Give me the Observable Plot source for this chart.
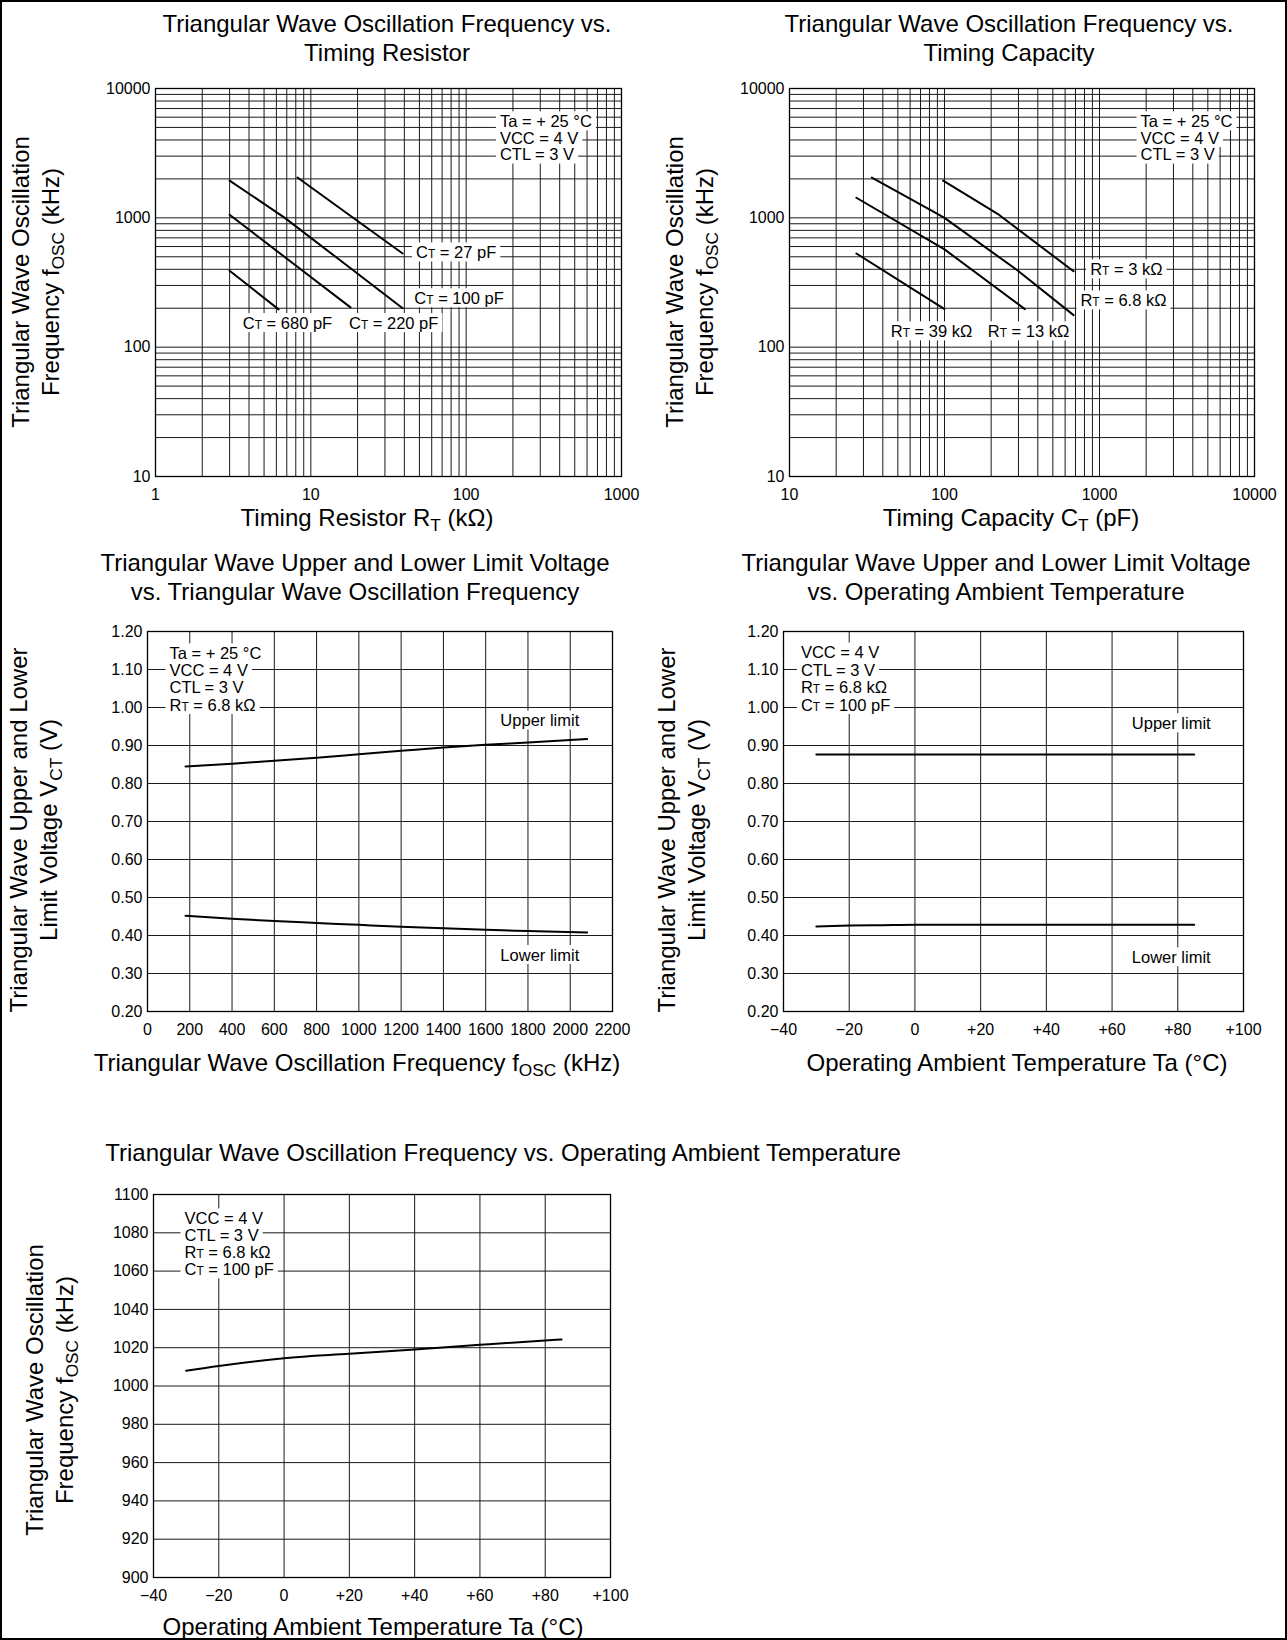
<!DOCTYPE html>
<html><head><meta charset="utf-8">
<script src="https://cdn.jsdelivr.net/npm/d3@7"></script>
<script src="https://cdn.jsdelivr.net/npm/@observablehq/plot@0.6"></script>
<style>
body{margin:0;background:#fff;}
#page{position:relative;width:1287px;height:1640px;font-family:"Liberation Sans",Arial,sans-serif;color:#000;overflow:hidden;background:#fff;}
#frame{position:absolute;left:0;top:0;width:1287px;height:1640px;box-sizing:border-box;border:2px solid #000;pointer-events:none;}
.t{position:absolute;white-space:nowrap;font-size:24px;line-height:29px;text-align:center;transform:translate(-50%,-50%);}
.yl{position:absolute;white-space:nowrap;font-size:24px;line-height:30px;text-align:center;transform:translate(-50%,-50%) rotate(-90deg);}
.panel{position:absolute;}
sub{font-size:72%;vertical-align:-0.3em;line-height:0;}
</style></head>
<body>
<div id="page"><div id="frame"></div></div>
<script>
// ---------------- DATA ----------------
// Chart 1: oscillation frequency (kHz) vs timing resistor RT (kΩ)
const ct27RT = [8.2, 19.4, 39];
const ct27F = [2050, 970, 530];
const ct100RT = [3, 6.8, 15, 39];
const ct100F = [1940, 1000, 482, 200];
const ct220RT = [3, 8, 18];
const ct220F = [1055, 428, 203];
const ct680RT = [3, 6.2];
const ct680F = [390, 196];
const c1LabelText = ["Cᴛ = 27 pF", "Cᴛ = 100 pF", "Cᴛ = 680 pF", "Cᴛ = 220 pF"];
const c1LabelX = [47.6, 46.4, 3.65, 17.6];
const c1LabelY = [538, 238, 153, 153];
const c1Cond = ["Ta = + 25 °C", "VCC = 4 V", "CTL = 3 V"];
const c1CondX = 165;
const c1CondY = [5550, 4124, 3070];
const c1XTicks = [1, 10, 100, 1000];
const c1YTicks = [10, 100, 1000, 10000];

// Chart 2: oscillation frequency (kHz) vs timing capacity CT (pF)
const rt3CT = [98, 220, 680];
const rt3F = [1940, 1075, 386];
const rt68CT = [34, 82, 100, 295, 680];
const rt68F = [2050, 1140, 1000, 393, 177];
const rt13CT = [27, 100, 330];
const rt13F = [1430, 570, 197];
const rt39CT = [27, 100];
const rt39F = [530, 197];
const c2LabelText = ["Rᴛ = 3 kΩ", "Rᴛ = 6.8 kΩ", "Rᴛ = 39 kΩ", "Rᴛ = 13 kΩ"];
const c2LabelX = [871, 753, 45, 190];
const c2LabelY = [398, 229, 132, 132];
const c2Cond = ["Ta = + 25 °C", "VCC = 4 V", "CTL = 3 V"];
const c2CondX = 1840;
const c2CondY = [5550, 4124, 3070];
const c2XTicks = [10, 100, 1000, 10000];
const c2YTicks = [10, 100, 1000, 10000];

// Chart 3: upper / lower limit voltage (V) vs frequency (kHz)
const freq3 = [180, 400, 600, 800, 1000, 1200, 1400, 1600, 1800, 2080];
const upper3 = [0.845, 0.852, 0.860, 0.868, 0.877, 0.886, 0.895, 0.902, 0.908, 0.917];
const lower3 = [0.452, 0.444, 0.438, 0.433, 0.428, 0.423, 0.419, 0.415, 0.412, 0.408];
const c3Cond = ["Ta = + 25 °C", "VCC = 4 V", "CTL = 3 V", "Rᴛ = 6.8 kΩ"];
const c3CondX = 104;
const c3CondY = [1.142, 1.096, 1.051, 1.006];
const c3LimitText = ["Upper limit", "Lower limit"];
const c3LimitX = [1856, 1856];
const c3LimitY = [0.965, 0.348];
const c3XTicks = [0, 200, 400, 600, 800, 1000, 1200, 1400, 1600, 1800, 2000, 2200];
const voltTicks = [0.2, 0.3, 0.4, 0.5, 0.6, 0.7, 0.8, 0.9, 1.0, 1.1, 1.2];

// Chart 4: upper / lower limit voltage (V) vs ambient temperature (°C)
const temp4 = [-30, -20, -10, 0, 20, 40, 60, 80, 85];
const upper4 = [0.876, 0.876, 0.876, 0.876, 0.876, 0.876, 0.876, 0.876, 0.876];
const lower4 = [0.424, 0.426, 0.427, 0.428, 0.428, 0.428, 0.428, 0.428, 0.428];
const c4Cond = ["VCC = 4 V", "CTL = 3 V", "Rᴛ = 6.8 kΩ", "Cᴛ = 100 pF"];
const c4CondX = -34.7;
const c4CondY = [1.144, 1.097, 1.051, 1.006];
const c4LimitText = ["Upper limit", "Lower limit"];
const c4LimitX = [78, 78];
const c4LimitY = [0.958, 0.342];
const tempTicks = [-40, -20, 0, 20, 40, 60, 80, 100];

// Chart 5: oscillation frequency (kHz) vs ambient temperature (°C)
const temp5 = [-30, -20, 0, 20, 40, 60, 80, 85];
const freq5 = [1008, 1010.5, 1014.5, 1016.8, 1019, 1021.5, 1023.8, 1024.3];
const c5Cond = ["VCC = 4 V", "CTL = 3 V", "Rᴛ = 6.8 kΩ", "Cᴛ = 100 pF"];
const c5CondX = -30.5;
const c5CondY = [1087.4, 1078.6, 1069.5, 1060.8];
const c5YTicks = [900, 920, 940, 960, 980, 1000, 1020, 1040, 1060, 1080, 1100];

// ---------------- HELPERS ----------------
const FONT = "Liberation Sans, Arial, sans-serif";
const page = document.getElementById("page");
const SVGNS = "http://www.w3.org/2000/svg";

function logGrid(lo, hi) {
  const out = [];
  for (let p = lo; p < hi; p *= 10) for (let k = 1; k < 10; k++) out.push(p * k);
  out.push(hi);
  return out;
}
function series(xs, ys) { return xs.map((x, i) => ({x, y: ys[i]})); }
function labels(texts, xs, ys) {
  return texts.map((t, i) => ({t, x: Array.isArray(xs) ? xs[i] : xs, y: ys[i]}));
}
const signed = d => d > 0 ? "+" + d : d < 0 ? "\u2212" + Math.abs(d) : "0";

// small-capital T (CT, RT) as a reduced-size T tspan
function fixSmallCaps(svg) {
  svg.querySelectorAll("text").forEach(t => {
    if (t.children.length === 0 && t.textContent.includes("ᴛ")) {
      const parts = t.textContent.split("ᴛ");
      t.textContent = "";
      parts.forEach((p, i) => {
        if (i > 0) {
          const s = document.createElementNS(SVGNS, "tspan");
          s.setAttribute("font-size", "72%");
          s.textContent = "T";
          t.appendChild(s);
        }
        t.appendChild(document.createTextNode(p));
      });
    }
  });
}
// white box behind annotation texts (as in the datasheet)
function addBoxes(svg) {
  svg.querySelectorAll("g[aria-label='text'] text").forEach(t => {
    const b = t.getBBox();
    const r = document.createElementNS(SVGNS, "rect");
    r.setAttribute("x", b.x - 4);
    r.setAttribute("y", b.y - 0.5);
    r.setAttribute("width", b.width + 8);
    r.setAttribute("height", b.height + 1);
    r.setAttribute("fill", "#fff");
    r.setAttribute("stroke", "none");
    const tr = t.getAttribute("transform");
    if (tr) r.setAttribute("transform", tr);
    t.parentNode.insertBefore(r, t.parentNode.firstChild);
  });
}

function addText(cls, html, x, y) {
  const d = document.createElement("div");
  d.className = cls;
  d.innerHTML = html;
  d.style.left = x + "px";
  d.style.top = y + "px";
  page.appendChild(d);
}

function lineMarks(list, curve) {
  return list.map(s => Plot.line(s, {x: "x", y: "y", stroke: "#000", strokeWidth: 2, curve}));
}
function textMarks(data, anchor) {
  return Plot.text(data, {x: "x", y: "y", text: "t", textAnchor: anchor, fill: "#000",
    fontSize: 16.5, lineAnchor: "middle"});
}

function makePanel(cfg) {
  const ml = 70, mr = 30, mt = 14, mb = 44;
  const w = cfg.x1 - cfg.x0, h = cfg.y1 - cfg.y0;
  const svg = Plot.plot({
    width: w + ml + mr, height: h + mt + mb,
    marginLeft: ml, marginRight: mr, marginTop: mt, marginBottom: mb,
    style: {fontFamily: FONT, fontSize: "16px", color: "#000", background: "none", overflow: "visible"},
    x: Object.assign({tickSize: 0, tickPadding: 12, label: null}, cfg.x),
    y: Object.assign({tickSize: 0, tickPadding: 5, label: null}, cfg.y),
    marks: cfg.marks
  });
  const div = document.createElement("div");
  div.className = "panel";
  div.style.left = (cfg.x0 - ml) + "px";
  div.style.top = (cfg.y0 - mt) + "px";
  div.appendChild(svg);
  page.appendChild(div);
  fixSmallCaps(svg);
  addBoxes(svg);
}

const gridStyle = {stroke: "#1a1a1a", strokeWidth: 1};

// ---------------- CHART 1 ----------------
makePanel({
  x0: 155, x1: 621, y0: 88, y1: 476,
  x: {type: "log", domain: [1, 1000], ticks: c1XTicks, tickFormat: d => String(d)},
  y: {type: "log", domain: [10, 10000], ticks: c1YTicks, tickFormat: d => String(d)},
  marks: [
    Plot.ruleX(logGrid(1, 1000), gridStyle),
    Plot.ruleY(logGrid(10, 10000), gridStyle),
    Plot.frame({stroke: "#000", strokeWidth: 1.3}),
    ...lineMarks([series(ct27RT, ct27F), series(ct100RT, ct100F), series(ct220RT, ct220F), series(ct680RT, ct680F)], "linear"),
    textMarks(labels(c1LabelText, c1LabelX, c1LabelY), "start"),
    textMarks(labels(c1Cond, c1CondX, c1CondY), "start")
  ]
});
addText("t", "Triangular Wave Oscillation Frequency vs.<br>Timing Resistor", 387, 37.5);
addText("yl", "Triangular Wave Oscillation<br>Frequency f<sub>OSC</sub> (kHz)", 35.5, 282);
addText("t", "Timing Resistor R<sub>T</sub> (kΩ)", 367, 517);

// ---------------- CHART 2 ----------------
makePanel({
  x0: 789, x1: 1254, y0: 88, y1: 476,
  x: {type: "log", domain: [10, 10000], ticks: c2XTicks, tickFormat: d => String(d)},
  y: {type: "log", domain: [10, 10000], ticks: c2YTicks, tickFormat: d => String(d)},
  marks: [
    Plot.ruleX(logGrid(10, 10000), gridStyle),
    Plot.ruleY(logGrid(10, 10000), gridStyle),
    Plot.frame({stroke: "#000", strokeWidth: 1.3}),
    ...lineMarks([series(rt3CT, rt3F), series(rt68CT, rt68F), series(rt13CT, rt13F), series(rt39CT, rt39F)], "linear"),
    textMarks(labels(c2LabelText, c2LabelX, c2LabelY), "start"),
    textMarks(labels(c2Cond, c2CondX, c2CondY), "start")
  ]
});
addText("t", "Triangular Wave Oscillation Frequency vs.<br>Timing Capacity", 1009, 37.5);
addText("yl", "Triangular Wave Oscillation<br>Frequency f<sub>OSC</sub> (kHz)", 689.5, 282);
addText("t", "Timing Capacity C<sub>T</sub> (pF)", 1011, 517);

// ---------------- CHART 3 ----------------
makePanel({
  x0: 147, x1: 612, y0: 631, y1: 1011,
  x: {domain: [0, 2200], ticks: c3XTicks, tickFormat: d => String(d)},
  y: {domain: [0.2, 1.2], ticks: voltTicks, tickFormat: d3.format(".2f")},
  marks: [
    Plot.ruleX(c3XTicks, gridStyle),
    Plot.ruleY(voltTicks, gridStyle),
    Plot.frame({stroke: "#000", strokeWidth: 1.3}),
    ...lineMarks([series(freq3, upper3), series(freq3, lower3)], "monotone-x"),
    textMarks(labels(c3Cond, c3CondX, c3CondY), "start"),
    textMarks(labels(c3LimitText, c3LimitX, c3LimitY), "middle")
  ]
});
addText("t", "Triangular Wave Upper and Lower Limit Voltage<br>vs. Triangular Wave Oscillation Frequency", 355, 576.5);
addText("yl", "Triangular Wave Upper and Lower<br>Limit Voltage V<sub>CT</sub> (V)", 34, 830);
addText("t", "Triangular Wave Oscillation Frequency f<sub>OSC</sub> (kHz)", 357, 1062);

// ---------------- CHART 4 ----------------
makePanel({
  x0: 783, x1: 1243, y0: 631, y1: 1011,
  x: {domain: [-40, 100], ticks: tempTicks, tickFormat: signed},
  y: {domain: [0.2, 1.2], ticks: voltTicks, tickFormat: d3.format(".2f")},
  marks: [
    Plot.ruleX(tempTicks, gridStyle),
    Plot.ruleY(voltTicks, gridStyle),
    Plot.frame({stroke: "#000", strokeWidth: 1.3}),
    ...lineMarks([series(temp4, upper4), series(temp4, lower4)], "monotone-x"),
    textMarks(labels(c4Cond, c4CondX, c4CondY), "start"),
    textMarks(labels(c4LimitText, c4LimitX, c4LimitY), "middle")
  ]
});
addText("t", "Triangular Wave Upper and Lower Limit Voltage<br>vs. Operating Ambient Temperature", 996, 576.5);
addText("yl", "Triangular Wave Upper and Lower<br>Limit Voltage V<sub>CT</sub> (V)", 682, 830);
addText("t", "Operating Ambient Temperature Ta (°C)", 1017, 1062);

// ---------------- CHART 5 ----------------
makePanel({
  x0: 153, x1: 610, y0: 1194, y1: 1577,
  x: {domain: [-40, 100], ticks: tempTicks, tickFormat: signed},
  y: {domain: [900, 1100], ticks: c5YTicks, tickFormat: d => String(d)},
  marks: [
    Plot.ruleX(tempTicks, gridStyle),
    Plot.ruleY(c5YTicks, gridStyle),
    Plot.frame({stroke: "#000", strokeWidth: 1.3}),
    ...lineMarks([series(temp5, freq5)], "monotone-x"),
    textMarks(labels(c5Cond, c5CondX, c5CondY), "start")
  ]
});
addText("t", "Triangular Wave Oscillation Frequency vs. Operating Ambient Temperature", 503, 1152);
addText("yl", "Triangular Wave Oscillation<br>Frequency f<sub>OSC</sub> (kHz)", 50, 1390);
addText("t", "Operating Ambient Temperature Ta (°C)", 373, 1626);

// keep frame on top
page.appendChild(document.getElementById("frame"));
</script>
</body></html>
